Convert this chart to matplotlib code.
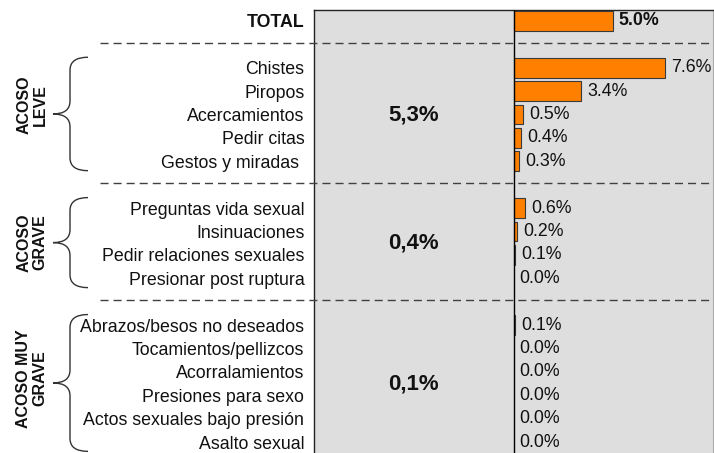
#Gráfico de acoso: barras horizontales por tipo

import matplotlib
matplotlib.use("Agg")
import matplotlib.pyplot as plt
import matplotlib.transforms as mtransforms
from matplotlib.path import Path
from matplotlib.patches import PathPatch

plt.rcParams['font.family'] = ['Liberation Sans', 'DejaVu Sans']

#Datos

total_label = "TOTAL"
total_value = 5.0

grupos = ["ACOSO\nLEVE", "ACOSO\nGRAVE", "ACOSO MUY\nGRAVE"]
resumen_grupos = ["5,3%", "0,4%", "0,1%"]

items_leve = ["Chistes", "Piropos", "Acercamientos", "Pedir citas", "Gestos y miradas "]
valores_leve = [7.6, 3.4, 0.5, 0.4, 0.3]

items_grave = ["Preguntas vida sexual", "Insinuaciones", "Pedir relaciones sexuales",
               "Presionar post ruptura"]
valores_grave = [0.6, 0.2, 0.1, 0.0]

items_muy_grave = ["Abrazos/besos no deseados", "Tocamientos/pellizcos", "Acorralamientos",
                   "Presiones para sexo", "Actos sexuales bajo presión", "Asalto sexual"]
valores_muy_grave = [0.1, 0.0, 0.0, 0.0, 0.0, 0.0]

#Posiciones de las filas (una fila vacía antes de cada grupo)

posiciones = [0]
etiquetas = [total_label]
valores = [total_value]
separadores = []
tramos = []
fila = 1
for items, vals in [(items_leve, valores_leve), (items_grave, valores_grave),
                    (items_muy_grave, valores_muy_grave)]:
    separadores.append(fila)
    fila += 1
    inicio = fila
    for it, v in zip(items, vals):
        posiciones.append(fila)
        etiquetas.append(it)
        valores.append(v)
        fila += 1
    tramos.append((inicio, fila - 1))

W, H = 714, 453
fig = plt.figure(figsize=(W / 100, H / 100), dpi=100)
ax = fig.add_axes([314 / W, 0, 399 / W, 443 / H])
ax.set_facecolor('#dedede')
ax.set_xlim(-10, 10)
ax.set_ylim(18.47, -0.47)

#Barras (las de 0.0 no se dibujan)
pos_bar = [p for p, v in zip(posiciones, valores) if v > 0]
val_bar = [v for v in valores if v > 0]
ax.barh(pos_bar, val_bar, height=0.85, left=0, color='#ff8000',
        edgecolor='#3a3a3a', linewidth=0.8, zorder=3)
ax.axvline(0, color='black', lw=1, zorder=4)

for i, (p, v) in enumerate(zip(posiciones, valores)):
    ax.annotate(f"{v:.1f}%", (v, p), xytext=(4, 0), textcoords='offset points',
                ha='left', va='center', fontsize=12.8, color='#111111',
                fontweight='bold' if i == 0 else 'normal')

ax.set_yticks(posiciones)
ax.set_yticklabels(etiquetas, fontsize=12.8, color='#111111')
ax.get_yticklabels()[0].set_fontweight('bold')
ax.tick_params(axis='y', length=0, pad=7)
ax.set_xticks([])

for lado in ['top', 'left']:
    ax.spines[lado].set_color('#222222')
    ax.spines[lado].set_linewidth(1)
ax.spines['right'].set_color('#aaaaaa')
ax.spines['bottom'].set_visible(False)

#Resumen por grupo en la columna central
for (a, b), txt in zip(tramos, resumen_grupos):
    ax.text(-5, (a + b) / 2, txt, ha='center', va='center', fontsize=16,
            fontweight='bold', color='#111111')

#Líneas discontinuas entre grupos
t_ax = mtransforms.blended_transform_factory(ax.transAxes, ax.transData)
x0 = (100 - 314) / 399
for s in separadores:
    ax.plot([x0, 1], [s - 0.06, s - 0.06], transform=t_ax, clip_on=False,
            color='#404040', lw=1, ls=(0, (5.8, 3.6)), zorder=5)

#Llaves y nombres de grupo
t_fig = mtransforms.blended_transform_factory(fig.transFigure, ax.transData)
x_end, x_spine, x_tip = 88 / W, 70 / W, 53 / W
r = 0.55
ajuste_nombre = [-0.4, 0.0, -0.2]
for (a, b), nombre, dy in zip(tramos, grupos, ajuste_nombre):
    yt = a - 0.45
    yb = b + 0.4
    ym = (yt + yb) / 2
    verts = [(x_end, yt), (x_spine, yt), (x_spine, yt + r),
             (x_spine, ym - r), (x_spine, ym), (x_tip, ym),
             (x_spine, ym), (x_spine, ym + r),
             (x_spine, yb - r), (x_spine, yb), (x_end, yb)]
    codes = [Path.MOVETO, Path.CURVE3, Path.CURVE3,
             Path.LINETO, Path.CURVE3, Path.CURVE3,
             Path.CURVE3, Path.CURVE3,
             Path.LINETO, Path.CURVE3, Path.CURVE3]
    llave = PathPatch(Path(verts, codes), transform=t_fig, fill=False,
                      edgecolor='#333333', lw=1, clip_on=False)
    ax.add_patch(llave)
    ax.text(32 / W, ym + dy, nombre, transform=t_fig, rotation=90, ha='center',
            va='center', fontsize=11.5, fontweight='bold', color='#111111',
            multialignment='center', linespacing=1.1)

fig.savefig("out.png", dpi=100)
